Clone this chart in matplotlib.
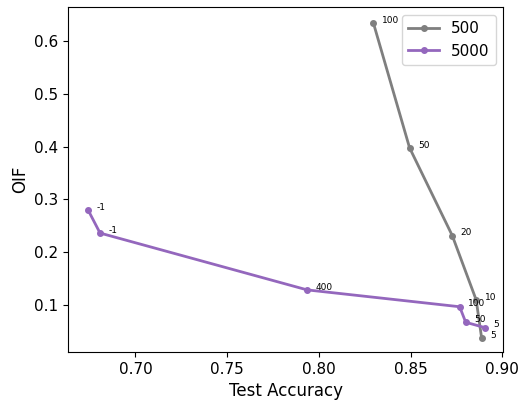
import matplotlib
matplotlib.use("Agg")
import matplotlib.pyplot as plt

acc_500 = [0.8297, 0.8494, 0.8727, 0.8857, 0.8887]
oif_500 = [0.635, 0.398, 0.231, 0.109, 0.036]
lab_500 = ["100", "50", "20", "10", "5"]

acc_5000 = [0.6743, 0.6807, 0.7936, 0.8767, 0.8800, 0.8905]
oif_5000 = [0.279, 0.236, 0.128, 0.096, 0.0665, 0.0563]
lab_5000 = ["-1", "-1", "400", "100", "50", "5"]

fig = plt.figure(figsize=(5.19, 4.04), dpi=100)
ax = fig.add_axes([0.1316, 0.1287, 0.8382, 0.8533])

ax.plot(acc_500, oif_500, '-o', color='#7f7f7f', lw=2, ms=4, label='500')
ax.plot(acc_5000, oif_5000, '-o', color='#9467bd', lw=2, ms=4, label='5000')

for x, y, t in zip(acc_500, oif_500, lab_500):
    ax.annotate(t, (x, y), xytext=(6, 2), textcoords='offset points',
                fontsize=6.5, ha='left', va='center')
for x, y, t in zip(acc_5000, oif_5000, lab_5000):
    ax.annotate(t, (x, y), xytext=(6, 2), textcoords='offset points',
                fontsize=6.5, ha='left', va='center')

ax.set_xlim(0.6634, 0.9005)
ax.set_ylim(0.010, 0.665)
ax.set_xticks([0.70, 0.75, 0.80, 0.85, 0.90])
ax.set_yticks([0.1, 0.2, 0.3, 0.4, 0.5, 0.6])
ax.tick_params(labelsize=11)
ax.set_xlabel('Test Accuracy', fontsize=12)
ax.set_ylabel('OIF', fontsize=12)
ax.legend(loc='upper right', fontsize=11)

fig.savefig('out.png', dpi=100)
